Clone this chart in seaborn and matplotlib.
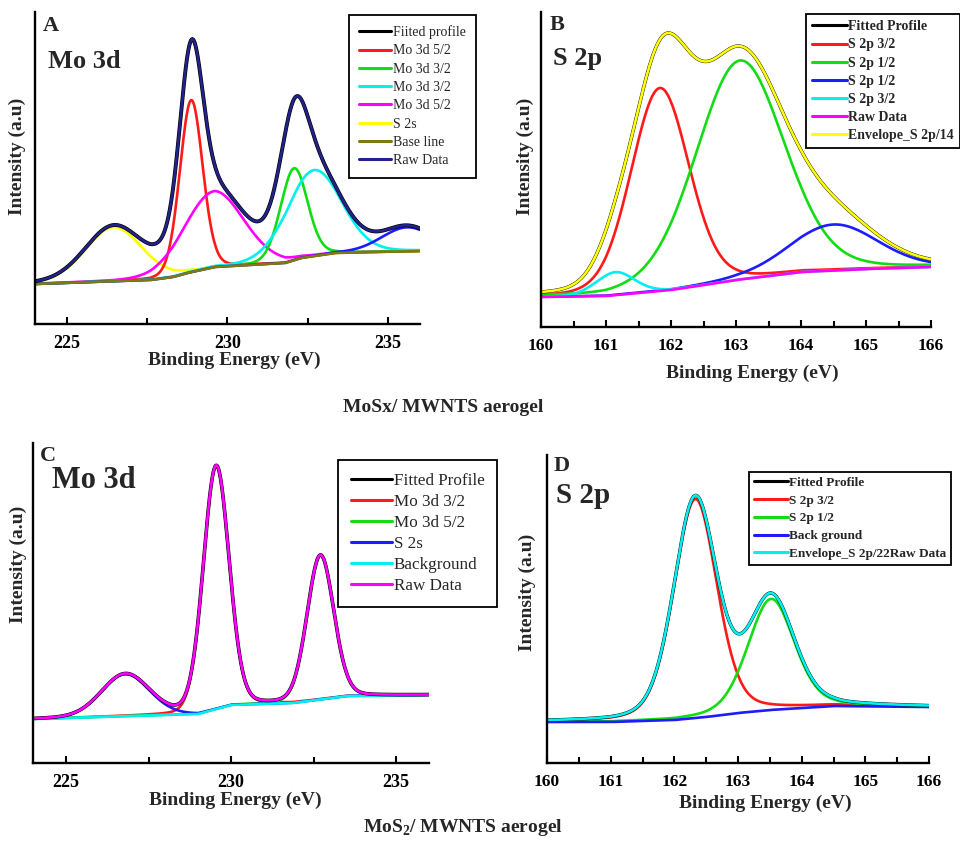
import numpy as np
import matplotlib
matplotlib.use("Agg")
import matplotlib.pyplot as plt
from matplotlib.lines import Line2D
import seaborn as sns

# ---------------------------------------------------------------
# values (intensity = arbitrary units above
# the x axis, energies in eV). Each fitted component is a peak with
# centre / height above background / FWHM.
# ---------------------------------------------------------------

# A : MoSx / MWNTS, Mo 3d
a_center = [226.45, 228.87, 229.57, 232.07, 232.70, 235.60]
a_height = [54, 172, 76, 92, 86, 24]
a_fwhm = [2.1, 0.84, 2.2, 1.0, 2.0, 1.9]
a_base_x = [224.0, 227.6, 228.3, 228.75, 229.6, 231.8, 232.3, 233.35, 236.0]
a_base_y = [40, 44, 47, 51, 57, 61, 66, 71, 73]
a_ticks = [225, 230, 235]
a_minor = [227.5, 232.5]
a_legend = ['Fiited profile', 'Mo 3d 5/2', 'Mo 3d 3/2', 'Mo 3d 3/2',
            'Mo 3d 5/2', 'S 2s', 'Base line', 'Raw Data']

# B : MoSx / MWNTS, S 2p
b_center = [161.83, 163.06, 164.50, 161.14]
b_height = [203, 219, 46, 23]
b_fwhm = [1.05, 1.60, 1.60, 0.70]
b_base_x = [160.0, 161.0, 162.0, 163.0, 164.0, 165.0, 166.0]
b_base_y = [30, 31, 37, 47, 55, 58, 60]
b_ticks = [160, 161, 162, 163, 164, 165, 166]
b_minor = [160.5, 161.5, 162.5, 163.5, 164.5, 165.5]
b_legend = ['Fitted Profile', 'S 2p 3/2', 'S 2p 1/2', 'S 2p 1/2',
            'S 2p 3/2', 'Raw Data', 'Envelope_S 2p/14']

# C : MoS2 / MWNTS, Mo 3d
c_center = [229.55, 232.71, 226.80]
c_height = [243, 144, 42]
c_fwhm = [0.92, 0.95, 1.7]
c_base_x = [224.0, 229.0, 230.0, 231.86, 232.6, 233.5, 236.0]
c_base_y = [44, 49, 58, 60, 63, 67, 68]
c_ticks = [225, 230, 235]
c_minor = [227.5, 232.5]
c_legend = ['Fitted Profile', 'Mo 3d 3/2', 'Mo 3d 5/2', 'S 2s',
            'Background', 'Raw Data']

# D : MoS2 / MWNTS, S 2p
d_center = [162.33, 163.52]
d_height = [219, 111]
d_fwhm = [0.80, 0.86]
d_base_x = [160.0, 161.0, 162.0, 162.5, 163.0, 163.5, 164.0, 164.5, 166.0]
d_base_y = [41, 41, 43, 46, 50, 53, 55, 57, 56]
d_ticks = [160, 161, 162, 163, 164, 165, 166]
d_minor = [160.5, 161.5, 162.5, 163.5, 164.5, 165.5]
d_legend = ['Fitted Profile', 'S 2p 3/2', 'S 2p 1/2', 'Back ground',
            'Envelope_S 2p/22Raw Data']

# ---------------------------------------------------------------
sns.set_theme(style='ticks')
plt.rcParams['font.family'] = ['Liberation Serif', 'DejaVu Serif']
plt.rcParams['font.weight'] = 'bold'
plt.rcParams['axes.labelweight'] = 'bold'
plt.rcParams['mathtext.fontset'] = 'custom'
plt.rcParams['mathtext.rm'] = 'Liberation Serif:bold'
plt.rcParams['mathtext.bf'] = 'Liberation Serif:bold'

RED = '#ff1a1a'
GREEN = '#14dc14'
BLUE = '#1c1cff'
CYAN = '#00f0f0'
MAGENTA = '#ff00ff'
YELLOW = '#ffff00'
OLIVE = '#7f7a10'
NAVY = '#222288'

W, H = 960, 844
fig = plt.figure(figsize=(W / 100, H / 100), dpi=100)


def fx(px):
    return px / W


def fy(py):
    return 1 - py / H


def peak(x, c, h, w, eta):
    # pseudo-Voigt line shape (usual XPS GL mix)
    d2 = 4 * (x - c) ** 2 / w ** 2
    return h * ((1 - eta) * np.exp(-np.log(2) * d2) + eta / (1 + d2))


def panel(box, xlim, ylim, ticks, minor, centers, heights, fwhms, eta,
          base_x, base_y, comp_colors, base_color, top_color, black_lw,
          letter, element, letter_pos, element_pos, element_size,
          xlab_pos, ylab_pos, legend_labels, legend_colors, legend_pos,
          legend_kw, ticksize):
    l, t, r, b = box
    ax = fig.add_axes([fx(l), fy(b), fx(r) - fx(l), (b - t) / H])
    x = np.linspace(xlim[0], xlim[1], 900)
    base = np.interp(x, base_x, base_y)
    comps = [peak(x, c, h, w, eta) for c, h, w in zip(centers, heights, fwhms)]
    env = base + np.sum(comps, axis=0)

    for comp, col in zip(comps, comp_colors):
        sns.lineplot(x=x, y=base + comp, color=col, lw=1.9, ax=ax, errorbar=None)
    sns.lineplot(x=x, y=base, color=base_color, lw=1.9, ax=ax, errorbar=None)
    sns.lineplot(x=x, y=env, color='black', lw=black_lw, ax=ax, errorbar=None)
    sns.lineplot(x=x, y=env, color=top_color, lw=1.9, ax=ax, errorbar=None)

    ax.set_xlim(*xlim)
    ax.set_ylim(*ylim)
    ax.set_yticks([])
    ax.set_xticks(ticks)
    ax.set_xticks(minor, minor=True)
    ax.set_xticklabels([str(v) for v in ticks])
    ax.tick_params(axis='x', which='major', direction='in', length=5,
                   width=1.5, color='black', labelsize=ticksize, pad=8,
                   labelcolor='black')
    ax.tick_params(axis='x', which='minor', direction='in', length=4,
                   width=1.5, color='black')
    sns.despine(ax=ax)
    for s in ('left', 'bottom'):
        ax.spines[s].set_linewidth(1.7)
        ax.spines[s].set_color('black')
    ax.set_facecolor('white')

    ax.set_xlabel('Binding Energy (eV)', fontsize=14, va='center')
    ax.set_ylabel('Intensity (a.u)', fontsize=14, va='center')
    ax.xaxis.set_label_coords((xlab_pos[0] - l) / (r - l),
                              (b - xlab_pos[1]) / (b - t))
    ax.yaxis.set_label_coords((ylab_pos[0] - l) / (r - l),
                              (b - ylab_pos[1]) / (b - t))

    fig.text(fx(letter_pos[0]), fy(letter_pos[1]), letter, fontsize=16,
             ha='left', va='top')
    fig.text(fx(element_pos[0]), fy(element_pos[1]), element,
             fontsize=element_size, ha='left', va='top')

    handles = [Line2D([], [], color=c, lw=2.2) for c in legend_colors]
    leg = ax.legend(handles, legend_labels, loc='upper left',
                    bbox_to_anchor=(fx(legend_pos[0]), fy(legend_pos[1])),
                    bbox_transform=fig.transFigure, frameon=True,
                    fancybox=False, edgecolor='black', framealpha=1,
                    borderaxespad=0, handletextpad=0.1, **legend_kw)
    leg.get_frame().set_linewidth(1.3)
    return ax


# A
panel((35, 12, 420, 324), (224, 236), (0, 312), a_ticks, a_minor,
      a_center, a_height, a_fwhm, 0.12, a_base_x, a_base_y,
      [YELLOW, RED, MAGENTA, GREEN, CYAN, BLUE], OLIVE, NAVY, 2.8,
      'A', 'Mo 3d', (43, 16), (48, 50), 19,
      (234, 360), (17, 156), a_legend,
      ['black', RED, GREEN, CYAN, MAGENTA, YELLOW, OLIVE, NAVY], (349, 15),
      dict(prop={'size': 10, 'weight': 'normal'}, handlelength=2.3,
           labelspacing=0.38, borderpad=0.75), 13)

# B
panel((541, 12, 931, 327), (160, 166), (0, 315), b_ticks, b_minor,
      b_center, b_height, b_fwhm, 0.15, b_base_x, b_base_y,
      [RED, GREEN, BLUE, CYAN], MAGENTA, YELLOW, 2.4,
      'B', 'S 2p', (550, 15), (553, 47), 19,
      (752, 373), (525, 156), b_legend,
      ['black', RED, GREEN, BLUE, CYAN, MAGENTA, YELLOW], (806, 14),
      dict(prop={'size': 10, 'weight': 'bold'}, handlelength=2.5,
           labelspacing=0.37, borderpad=0.45), 12.5)

# C
panel((33, 443, 429, 763), (224, 236), (0, 320), c_ticks, c_minor,
      c_center, c_height, c_fwhm, 0.1, c_base_x, c_base_y,
      [RED, GREEN, BLUE], CYAN, MAGENTA, 2.6,
      'C', 'Mo 3d', (40, 446), (52, 466), 22,
      (235, 800), (18, 564), c_legend,
      ['black', RED, GREEN, BLUE, CYAN, MAGENTA], (338, 460),
      dict(prop={'size': 12.3, 'weight': 'normal'}, handlelength=2.4,
           labelspacing=0.3, borderpad=0.75), 13)

# D
panel((547, 455, 929, 763), (160, 166), (0, 308), d_ticks, d_minor,
      d_center, d_height, d_fwhm, 0.25, d_base_x, d_base_y,
      [RED, GREEN], BLUE, CYAN, 2.4,
      'D', 'S 2p', (554, 456), (556, 482), 21,
      (765, 803), (527, 592), d_legend,
      ['black', RED, GREEN, BLUE, CYAN], (749, 472),
      dict(prop={'size': 9.5, 'weight': 'bold'}, handlelength=2.6,
           labelspacing=0.42, borderpad=0.35), 12.5)

fig.text(fx(443), fy(408), 'MoSx/ MWNTS aerogel', fontsize=14,
         ha='center', va='center')
fig.text(fx(463), fy(828), r'MoS$_{2}$/ MWNTS aerogel', fontsize=14,
         ha='center', va='center')

fig.savefig('out.png', dpi=100, facecolor='white')
